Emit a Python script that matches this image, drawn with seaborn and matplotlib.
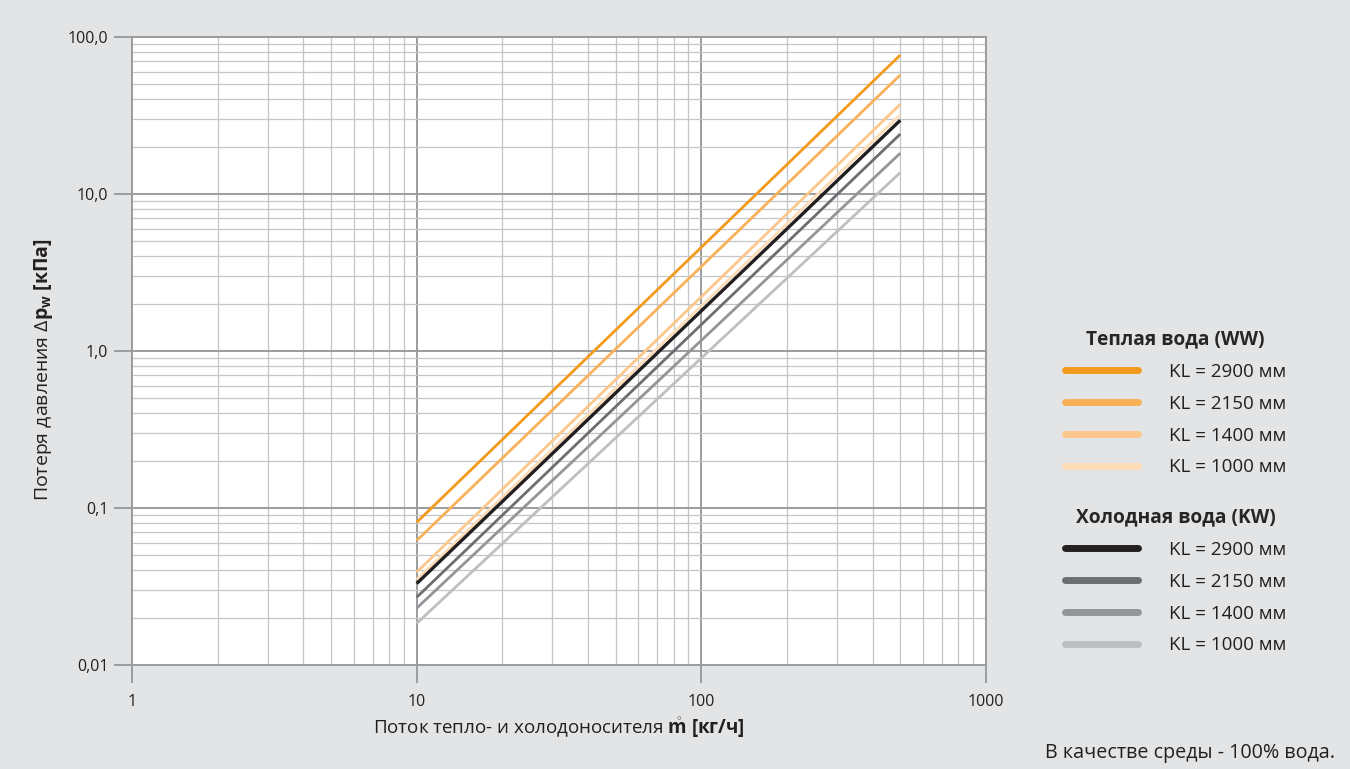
import numpy as np
import pandas as pd
import matplotlib
matplotlib.use("Agg")
import matplotlib.pyplot as plt
import seaborn as sns
from matplotlib.lines import Line2D
from matplotlib.ticker import FixedLocator, LogLocator, NullFormatter

# ---- data ----
flow = [10, 500]  # kg/h
ww_2900 = [0.081, 76.8]
ww_2150 = [0.062, 57.3]
ww_1400 = [0.039, 37.3]
ww_1000 = [0.035, 32.0]
kw_2900 = [0.033, 29.5]
kw_2150 = [0.027, 24.1]
kw_1400 = [0.023, 18.2]
kw_1000 = [0.0184, 13.7]

series_names = ["WW 2900", "WW 2150", "WW 1400", "WW 1000",
                "KW 2900", "KW 2150", "KW 1400", "KW 1000"]
series_vals = [ww_2900, ww_2150, ww_1400, ww_1000,
               kw_2900, kw_2150, kw_1400, kw_1000]
legend_labels = ["KL = 2900 мм", "KL = 2150 мм", "KL = 1400 мм", "KL = 1000 мм"]
ww_title = "Теплая вода (WW)"
kw_title = "Холодная вода (KW)"
x_ticks = [1, 10, 100, 1000]
x_ticklabels = ["1", "10", "100", "1000"]
y_ticks = [0.01, 0.1, 1, 10, 100]
y_ticklabels = ["0,01", "0,1", "1,0", "10,0", "100,0"]

colors = ["#f39a1d", "#f9b159", "#fcc78a", "#fddcb6",
          "#231f20", "#6d6e71", "#939598", "#bdbfc1"]
widths = [2.0, 2.0, 2.0, 2.0, 2.4, 2.0, 2.0, 2.0]

rows = []
for name, vals in zip(series_names, series_vals):
    for f, p in zip(flow, vals):
        rows.append({"series": name, "flow": f, "dp": p})
df = pd.DataFrame(rows)

sns.set_theme(style="white")
plt.rcParams["font.family"] = ["Open Sans", "DejaVu Sans"]
plt.rcParams["mathtext.fontset"] = "custom"
plt.rcParams["mathtext.rm"] = "Open Sans"
plt.rcParams["mathtext.bf"] = "Open Sans:bold"
plt.rcParams["mathtext.it"] = "Open Sans:italic"

bg = "#e3e4e5"
fig = plt.figure(figsize=(13.5, 7.69), dpi=100, facecolor=bg)
ax = fig.add_axes([132 / 1350, 1 - 665 / 769, (986 - 132) / 1350, (665 - 37) / 769])
ax.set_facecolor("white")

palette = dict(zip(series_names, colors))
sns.lineplot(data=df, x="flow", y="dp", hue="series", palette=palette,
             hue_order=series_names, legend=False, ax=ax, linewidth=2.0)
for line, w in zip(ax.get_lines(), widths):
    line.set_linewidth(w)
    line.set_solid_capstyle("butt")
    line.set_zorder(5)

ax.set_xscale("log")
ax.set_yscale("log")
ax.set_xlim(1, 1000)
ax.set_ylim(0.01, 100)
ax.xaxis.set_major_locator(FixedLocator(x_ticks))
ax.set_xticklabels(x_ticklabels)
ax.yaxis.set_major_locator(FixedLocator(y_ticks))
ax.set_yticklabels(y_ticklabels)
ax.xaxis.set_minor_locator(LogLocator(base=10, subs=np.arange(2, 10)))
ax.yaxis.set_minor_locator(LogLocator(base=10, subs=np.arange(2, 10)))
ax.xaxis.set_minor_formatter(NullFormatter())
ax.yaxis.set_minor_formatter(NullFormatter())

ax.grid(True, which="major", color="#9b9c9e", linewidth=1.4, zorder=1)
ax.grid(True, which="minor", color="#c4c5c7", linewidth=0.9, zorder=0)
ax.set_axisbelow(True)
for s in ax.spines.values():
    s.set_color("#9b9c9e")
    s.set_linewidth(1.4)
ax.tick_params(which="major", length=13, width=1.4, color="#9b9c9e",
               labelsize=11.5, labelcolor="#231f20", left=True, bottom=True)
ax.tick_params(axis="x", which="major", pad=8)
ax.tick_params(axis="y", which="major", pad=4)
ax.tick_params(which="minor", length=0)

ax.set_xlabel(r"Поток тепло- и холодоносителя $\mathbf{\mathring{m}}$ $\mathbf{[кг/ч]}$",
              fontsize=13.5, color="#231f20", labelpad=4)
ax.set_ylabel(r"Потеря давления $\Delta\mathbf{p_w}$ $\mathbf{[кПа]}$",
              fontsize=14, color="#231f20", labelpad=6)
ax.yaxis.set_label_coords(-0.090, 0.47)

# legends
ww_handles = [Line2D([0], [0], color=c, lw=5, solid_capstyle="round") for c in colors[:4]]
kw_handles = [Line2D([0], [0], color=c, lw=5, solid_capstyle="round") for c in colors[4:]]
common = dict(frameon=False, fontsize=13.5, handlelength=3.9, handletextpad=1.63,
              labelspacing=0.74, title_fontproperties={"weight": "bold", "size": 13.8},
              labelcolor="#231f20", borderpad=0.3)
leg1 = fig.legend(ww_handles, legend_labels, title=ww_title,
                  loc="upper left", bbox_to_anchor=(1050 / 1350, 1 - 314 / 769), **common)
leg2 = fig.legend(kw_handles, legend_labels, title=kw_title,
                  loc="upper left", bbox_to_anchor=(1050 / 1350, 1 - 492 / 769), **common)

fig.text(1335 / 1350, 1 - 753 / 769, "В качестве среды - 100% вода.",
         ha="right", va="center", fontsize=14.2, color="#231f20")

fig.savefig("out.png", dpi=100, facecolor=bg)
